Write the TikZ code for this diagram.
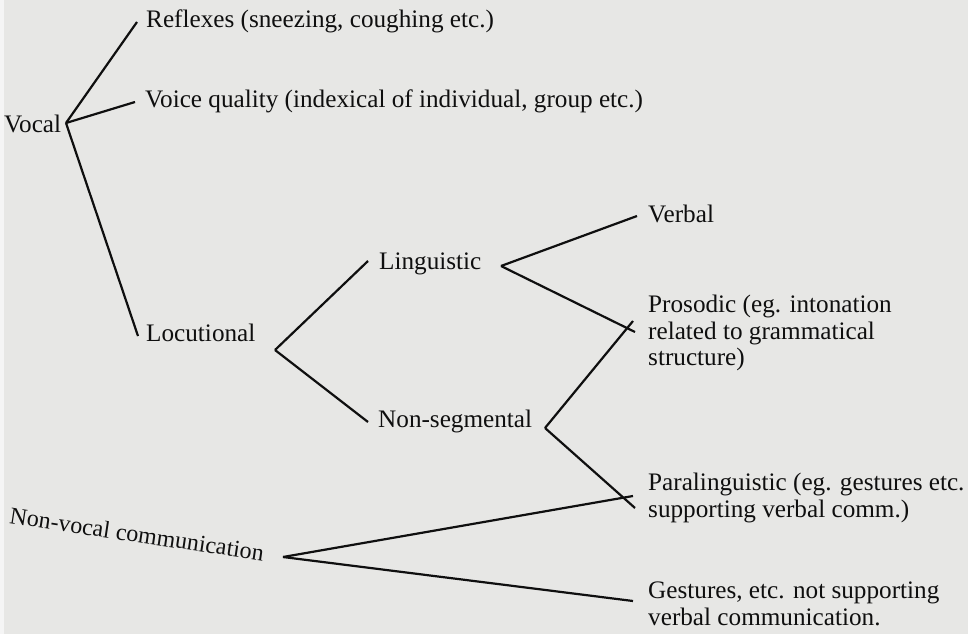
\documentclass[tikz,border=0pt]{standalone}
\usepackage{fontspec}
\setmainfont{Liberation Serif}
\definecolor{paper}{RGB}{231,231,229}
\definecolor{ink}{RGB}{15,15,15}
\begin{document}
\begin{tikzpicture}[x=1pt,y=-1pt,
  lbl/.style={anchor=west, inner sep=0pt, align=left, text=ink, font=\fontsize{25.2}{26.5}\selectfont},
  ln/.style={draw=ink, line width=2.2pt}]
\useasboundingbox (0,0) rectangle (968,634);
\fill[paper] (0,0) rectangle (968,634);
\fill[white!60!paper] (0,0) rectangle (4,634);
% nodes
\node[lbl] (voc) at (4,124) {Vocal};
\node[lbl] (refl) at (146,21) {Reflexes (sneezing, coughing etc.)};
\node[lbl] (voice) at (145,101) {Voice quality (indexical of individual, group etc.)};
\node[lbl] (locu) at (146,333) {Locutional};
\node[lbl] (ling) at (379,264) {Linguistic};
\node[lbl] (nonseg) at (378,421) {Non-segmental};
\node[lbl] (verbal) at (648,214) {Verbal};
\node[lbl] (pros) at (648,333) {Prosodic (eg. intonation\\related to grammatical\\structure)};
\node[lbl] (para) at (648,498) {Paralinguistic (eg. gestures etc.\\supporting verbal comm.)};
\node[lbl] (gest) at (648,604) {Gestures, etc. not supporting\\verbal communication.};
\node[lbl, anchor=center, rotate=-8.5, font=\fontsize{24}{26}\selectfont] (nonvoc) at (137,534) {Non-vocal communication};
% junctions
\coordinate (vocJ) at (66,123);
\coordinate (locJ) at (275,350);
\coordinate (lingJ) at (501,266);
\coordinate (nsJ) at (545,428);
\coordinate (nvJ) at (283,557);
% connectors
\draw[ln] (vocJ) -- ([xshift=-9pt,yshift=-1pt]refl.west);
\draw[ln] (vocJ) -- ([xshift=-10pt,yshift=-1pt]voice.west);
\draw[ln] (vocJ) -- ([xshift=-8pt,yshift=-3pt]locu.west);
\draw[ln] (locJ) -- ([xshift=-11pt,yshift=3pt]ling.west);
\draw[ln] (locJ) -- ([xshift=-10pt,yshift=-1pt]nonseg.west);
\draw[ln] (lingJ) -- ([xshift=-11pt,yshift=-2pt]verbal.west);
\draw[ln] (lingJ) -- ([xshift=-13pt,yshift=1pt]pros.west);
\draw[ln] (nsJ) -- ([xshift=-15pt,yshift=12pt]pros.west);
\draw[ln] (nsJ) -- ([xshift=-13pt,yshift=-10pt]para.west);
\draw[ln] (nvJ) -- ([xshift=-15pt,yshift=2pt]para.west);
\draw[ln] (nvJ) -- ([xshift=-15pt,yshift=3pt]gest.west);
\end{tikzpicture}
\end{document}
